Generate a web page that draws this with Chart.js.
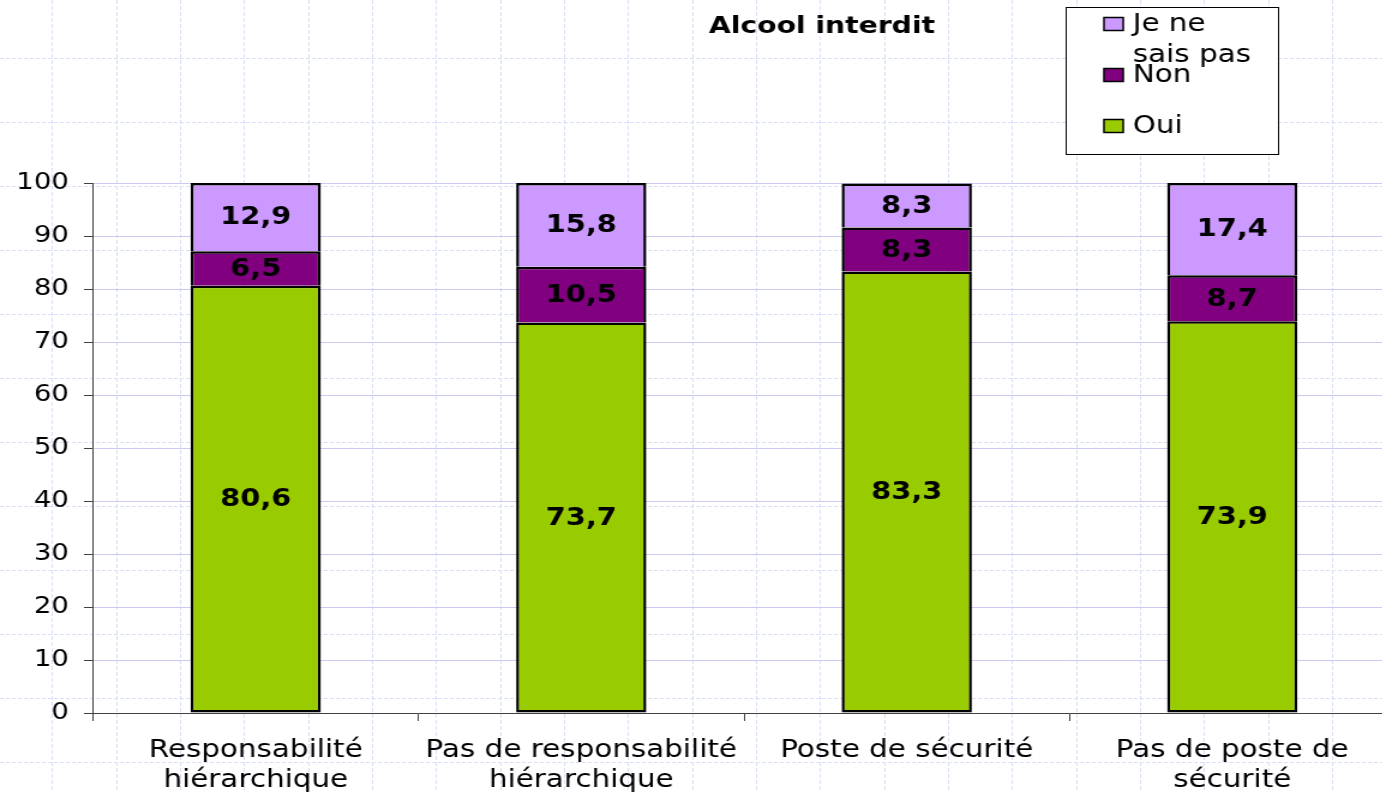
<!DOCTYPE html>
<html>
<head>
<meta charset="utf-8">
<script src="https://cdn.jsdelivr.net/npm/chart.js@4/dist/chart.umd.min.js"></script>
<style>
html, body { margin: 0; padding: 0; overflow: hidden; background: #ffffff; width: 1382px; height: 792px; }
#c { display: block; transform: scaleX(1.2); transform-origin: 0 0; }
</style>
</head>
<body>
<canvas id="c" width="1165" height="792"></canvas>
<script>
// ---- data ----
const categories = [
  ["Responsabilité", "hiérarchique"],
  ["Pas de responsabilité", "hiérarchique"],
  "Poste de sécurité",
  ["Pas de poste de", "sécurité"]
];
const seriesNames = ["Oui", "Non", "Je ne sais pas"];
const oui = [80.6, 73.7, 83.3, 73.9];
const non = [6.5, 10.5, 8.3, 8.7];
const nsp = [12.9, 15.8, 8.3, 17.4];
const yMin = 0, yMax = 100, yStep = 10;
const titleText = "Alcool interdit";
const legendLines = [["Je ne", "sais pas"], ["Non"], ["Oui"]];

const colors = ["#99CC00", "#800080", "#CC99FF"];
const FONT = "'DejaVu Sans', Verdana, sans-serif";

const bgGrid = {
  id: 'bgGrid',
  beforeDraw(chart) {
    const ctx = chart.ctx;
    const W = chart.width, H = chart.height;
    ctx.save();
    ctx.fillStyle = '#ffffff';
    ctx.fillRect(0, 0, W, H);
    ctx.strokeStyle = '#d6def8';
    ctx.lineWidth = 1;
    ctx.setLineDash([4, 2]);
    for (let x = 52 / 1.2; x < W; x += 64 / 1.2) {
      ctx.beginPath(); ctx.moveTo(Math.round(x) + 0.5, 0); ctx.lineTo(Math.round(x) + 0.5, H); ctx.stroke();
    }
    ctx.setLineDash([3, 2]);
    for (let y = 58; y < H; y += 64) {
      ctx.beginPath(); ctx.moveTo(0, y + 0.5); ctx.lineTo(W, y + 0.5); ctx.stroke();
    }
    ctx.restore();
  }
};

const deco = {
  id: 'deco',
  afterDatasetsDraw(chart) {
    const ctx = chart.ctx;
    ctx.save();
    // data labels
    ctx.fillStyle = '#000';
    ctx.font = "bold 24px " + FONT;
    ctx.textAlign = 'center';
    ctx.textBaseline = 'middle';
    chart.data.datasets.forEach((ds, di) => {
      const meta = chart.getDatasetMeta(di);
      meta.data.forEach((bar, i) => {
        const v = ds.data[i];
        const txt = String(v).replace('.', ',');
        ctx.fillText(txt, bar.x, (bar.y + bar.base) / 2 + 1);
      });
    });
    // title
    ctx.font = "bold 23.5px " + FONT;
    ctx.fillText(titleText, 685, 27);
    // legend
    const bx = 888.5, by = 7.5, bw = 177, bh = 147;
    ctx.fillStyle = '#ffffff';
    ctx.fillRect(bx, by, bw, bh);
    ctx.strokeStyle = '#000';
    ctx.lineWidth = 1;
    ctx.strokeRect(bx, by, bw, bh);
    const rows = [24, 75, 126];
    const order = [2, 1, 0];
    ctx.font = "24.5px " + FONT;
    ctx.textAlign = 'left';
    order.forEach((dsIdx, r) => {
      const cy = rows[r];
      ctx.fillStyle = colors[dsIdx];
      ctx.fillRect(920, cy - 6.5, 16, 13);
      ctx.strokeStyle = '#000';
      ctx.lineWidth = 1.5;
      ctx.strokeRect(920, cy - 6.5, 16, 13);
      ctx.fillStyle = '#000';
      legendLines[r].forEach((ln, k) => {
        ctx.fillText(ln, 944, cy + 1 + k * 31);
      });
    });
    ctx.restore();
  }
};

const mkDs = (label, data, color, skip) => ({
  label, data,
  backgroundColor: color,
  borderColor: '#000',
  borderWidth: 2.5,
  borderSkipped: skip,
  barPercentage: 0.4,
  categoryPercentage: 1.0
});

new Chart(document.getElementById('c'), {
  type: 'bar',
  data: {
    labels: categories,
    datasets: [
      mkDs(seriesNames[0], oui, colors[0], false),
      mkDs(seriesNames[1], non, colors[1], 'start'),
      mkDs(seriesNames[2], nsp, colors[2], 'start')
    ]
  },
  options: {
    responsive: false,
    animation: false,
    devicePixelRatio: 1,
    layout: { padding: { top: 183, right: 2.5, left: 0, bottom: 0 } },
    plugins: { legend: { display: false }, title: { display: false }, tooltip: { enabled: false } },
    scales: {
      x: {
        stacked: true,
        grid: { offset: true, drawOnChartArea: false, tickLength: 8, tickColor: '#404040', tickWidth: 1 },
        border: { color: '#404040', width: 1 },
        ticks: { color: '#000', font: { family: FONT, size: 24.5, lineHeight: 1.25 }, padding: 14, maxRotation: 0, autoSkip: false },
        afterFit(scale) { scale.height = 79; }
      },
      y: {
        stacked: true,
        min: yMin, max: yMax,
        grid: { color: '#cacaf2', lineWidth: 1, tickLength: 7.5, tickColor: '#404040' },
        border: { color: '#404040', width: 1 },
        ticks: { stepSize: yStep, color: '#000', font: { family: FONT, size: 23 }, padding: 12.5 },
        afterFit(scale) { scale.width = 77.5; }
      }
    }
  },
  plugins: [bgGrid, deco]
});
</script>
</body>
</html>
